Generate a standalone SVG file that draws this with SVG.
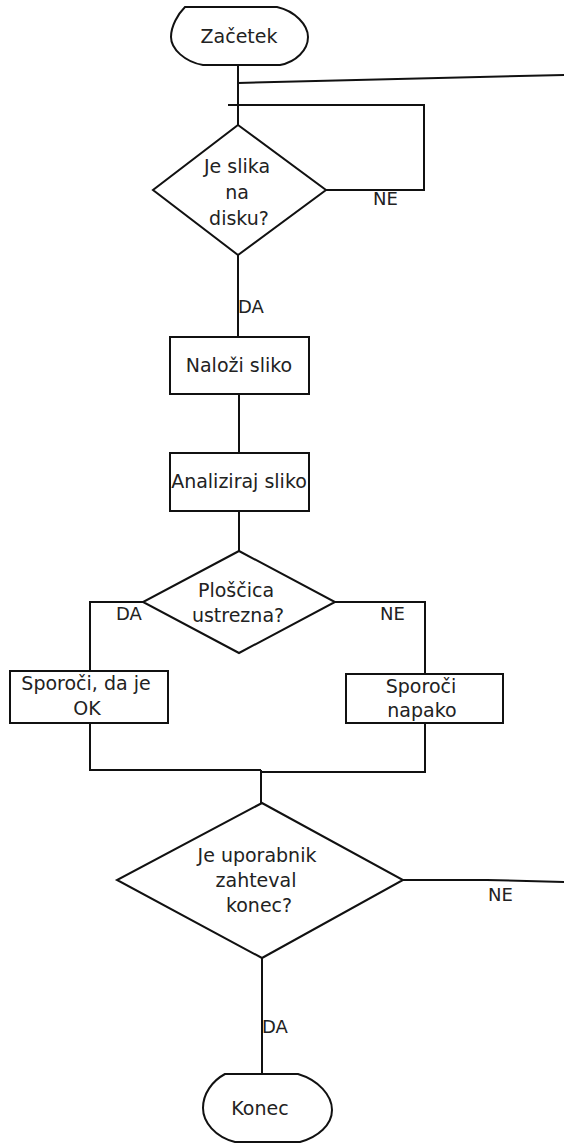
<svg xmlns="http://www.w3.org/2000/svg" width="564" height="1145" viewBox="0 0 564 1145">
<style>
.s{fill:#fff;stroke:#111;stroke-width:2}
.c{fill:none;stroke:#111;stroke-width:2}
text{font-family:"DejaVu Sans",sans-serif;font-size:19px;fill:#222}
.m{text-anchor:middle}
.l{font-size:18px}
</style>
<rect width="564" height="1145" fill="#fff"/>
<g id="connectors">
<path class="c" d="M238,65 V125"/>
<path class="c" d="M238,83 L564,75"/>
<path class="c" d="M228,105 H424 V190 H326"/>
<path class="c" d="M238,255 V337"/>
<path class="c" d="M239,394 V453"/>
<path class="c" d="M239,511 V551"/>
<path class="c" d="M143,602 H90 V671"/>
<path class="c" d="M335,602 H425 V674"/>
<path class="c" d="M90,723 V770 H261"/>
<path class="c" d="M425,723 V772 H261"/>
<path class="c" d="M261,770 V803"/>
<path class="c" d="M403,880 H487 L564,882"/>
<path class="c" d="M262,958 V1074"/>
<text class="l" x="373" y="205">NE</text>
<text class="l" x="238" y="313">DA</text>
<text class="l" x="116" y="620">DA</text>
<text class="l" x="380" y="620">NE</text>
<text class="l" x="488" y="901">NE</text>
<text class="l" x="262" y="1033">DA</text>
</g>
<g id="zacetek">
<path class="s" d="M185,7 L277,7 C295,11 308,25 308,37 C308,50 296,62 280,65 L203,65 C185,62 171,49 171,37 C171,26 178,14 185,7 Z"/>
<text class="m" x="239" y="43">Začetek</text>
</g>
<g id="slika-na-disku">
<polygon class="s" points="238,125 326,190 238,255 153,190"/>
<text class="m" x="237" y="173">Je slika</text>
<text class="m" x="237" y="199">na</text>
<text class="m" x="239" y="225">disku?</text>
</g>
<g id="nalozi">
<rect class="s" x="170" y="337" width="139" height="57"/>
<text class="m" x="239" y="372">Naloži sliko</text>
</g>
<g id="analiziraj">
<rect class="s" x="170" y="453" width="139" height="58"/>
<text class="m" x="239" y="488">Analiziraj sliko</text>
</g>
<g id="ploscica">
<polygon class="s" points="239,551 335,602 239,653 143,602"/>
<text class="m" x="236" y="597">Ploščica</text>
<text class="m" x="238" y="622">ustrezna?</text>
</g>
<g id="sporoci-ok">
<rect class="s" x="10" y="671" width="158" height="52"/>
<text class="m" x="86" y="690">Sporoči, da je</text>
<text class="m" x="87" y="715">OK</text>
</g>
<g id="sporoci-napako">
<rect class="s" x="346" y="674" width="157" height="49"/>
<text class="m" x="421" y="693">Sporoči</text>
<text class="m" x="422" y="717">napako</text>
</g>
<g id="konec-vprasanje">
<polygon class="s" points="262,803 403,880 262,958 117,880"/>
<text class="m" x="257" y="862">Je uporabnik</text>
<text class="m" x="256" y="887">zahteval</text>
<text class="m" x="259" y="912">konec?</text>
</g>
<g id="konec">
<path class="s" d="M225,1074 L298,1074 C318,1080 332,1095 332,1110 C332,1125 318,1137 300,1142 L235,1142 C215,1137 203,1122 203,1108 C203,1094 212,1081 225,1074 Z"/>
<text class="m" x="260" y="1115">Konec</text>
</g>
</svg>
